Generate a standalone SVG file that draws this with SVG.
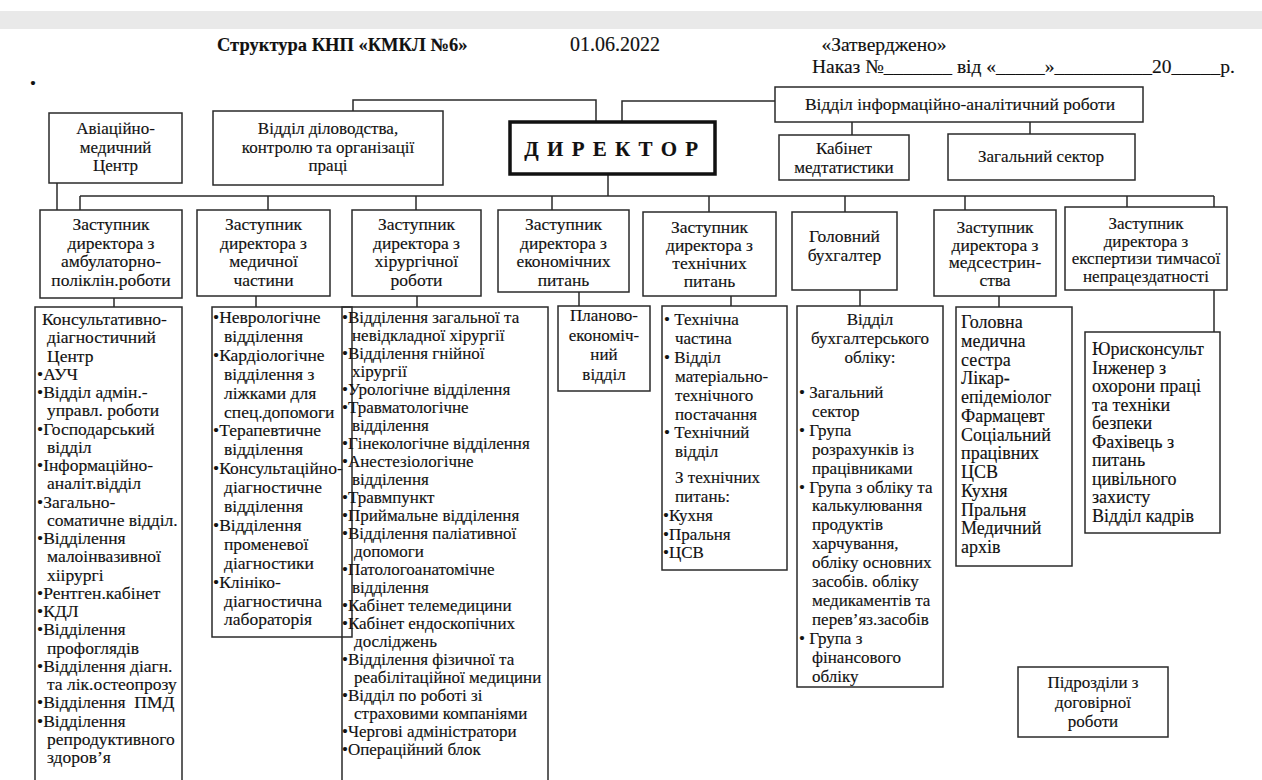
<svg xmlns="http://www.w3.org/2000/svg" width="1262" height="780" viewBox="0 0 1262 780">
<style>
.b{fill:#fff;stroke:#2a2a2a;stroke-width:1.5}
.ln{fill:none;stroke:#2a2a2a;stroke-width:1.5}
text{font-family:"Liberation Serif","Times New Roman",serif;font-size:17px;fill:#111;stroke:#111;stroke-width:0.15}
.c{text-anchor:middle}
.s{font-size:17px}
.d{font-size:17.5px}
.h{font-size:19.5px}
.m{font-size:18px}
</style>
<rect x="0" y="0" width="1262" height="780" fill="#fff"/>
<rect x="0" y="11" width="1262" height="18" fill="#e9e9e9"/>

<g id="header">
<text x="217" y="51" style="font-weight:bold;font-size:18.5px">Структура КНП «КМКЛ №6»</text>
<text x="570" y="51" style="font-size:20px">01.06.2022</text>
<text x="884" y="51" class="c h">«Затверджено»</text>
<text x="812" y="73" class="h">Наказ №_______ від «_____»__________20_____р.</text>
<text x="30" y="89">•</text>
</g>

<g id="connectors">
<polyline class="ln" points="596,122 596,100 353,100 353,111"/>
<polyline class="ln" points="622,122 622,101 775,101"/>
<line class="ln" x1="852" y1="122" x2="852" y2="135"/>
<line class="ln" x1="1030" y1="122" x2="1030" y2="134"/>
<line class="ln" x1="57" y1="183" x2="57" y2="210"/>
<line class="ln" x1="608" y1="174" x2="608" y2="196"/>
<line class="ln" x1="80" y1="196" x2="1214" y2="196"/>
<line class="ln" x1="80" y1="196" x2="80" y2="210"/>
<line class="ln" x1="268" y1="196" x2="268" y2="210"/>
<line class="ln" x1="416" y1="196" x2="416" y2="210"/>
<line class="ln" x1="552" y1="196" x2="552" y2="210"/>
<line class="ln" x1="709" y1="196" x2="709" y2="212"/>
<line class="ln" x1="845" y1="196" x2="845" y2="212"/>
<line class="ln" x1="965" y1="196" x2="965" y2="210"/>
<line class="ln" x1="1127" y1="196" x2="1127" y2="207"/>
<line class="ln" x1="1214" y1="196" x2="1214" y2="207"/>
<line class="ln" x1="114" y1="298" x2="114" y2="307"/>
<line class="ln" x1="256" y1="296" x2="256" y2="307"/>
<line class="ln" x1="417" y1="296" x2="417" y2="307"/>
<line class="ln" x1="579" y1="292" x2="579" y2="306"/>
<line class="ln" x1="731" y1="296" x2="731" y2="306"/>
<line class="ln" x1="860" y1="290" x2="860" y2="306"/>
<line class="ln" x1="999" y1="296" x2="999" y2="307"/>
<line class="ln" x1="1214" y1="290" x2="1214" y2="332"/>
</g>

<g id="aviation">
<rect class="b" x="49" y="113" width="133" height="70"/>
<text class="c s" x="115.5" y="134"><tspan x="115.5">Авіаційно-</tspan><tspan x="115.5" dy="18.5">медичний</tspan><tspan x="115.5" dy="18.5">Центр</tspan></text>
</g>

<g id="office">
<rect class="b" x="213" y="111" width="230" height="74"/>
<text class="c s" x="328" y="134"><tspan x="328">Відділ діловодства,</tspan><tspan x="328" dy="18.5">контролю та організації</tspan><tspan x="328" dy="18.5">праці</tspan></text>
</g>

<g id="director">
<rect x="510" y="122" width="205" height="52" fill="#fff" stroke="#111" stroke-width="3.5"/>
<text class="c" x="612" y="156" style="font-weight:bold;font-size:21px;letter-spacing:1.5px">Д И Р Е К Т О Р</text>
</g>

<g id="info">
<rect class="b" x="775" y="87" width="368" height="35"/>
<text class="c" x="960" y="110" style="font-size:17.5px">Відділ інформаційно-аналітичний роботи</text>
</g>

<g id="medstat">
<rect class="b" x="779" y="135" width="130" height="45"/>
<text class="c s" x="844" y="154"><tspan x="844">Кабінет</tspan><tspan x="844" dy="19">медтатистики</tspan></text>
</g>

<g id="general-sector">
<rect class="b" x="948" y="134" width="187" height="46"/>
<text class="c s" x="1041" y="162">Загальний сектор</text>
</g>

<g id="dep1">
<rect class="b" x="40" y="210" width="142" height="88"/>
<text class="c d" x="111" y="230"><tspan x="111">Заступник</tspan><tspan x="111" dy="18.5">директора з</tspan><tspan x="111" dy="18.5">амбулаторно-</tspan><tspan x="111" dy="18.5">поліклін.роботи</tspan></text>
</g>
<g id="dep2">
<rect class="b" x="197" y="210" width="133" height="86"/>
<text class="c d" x="263.5" y="230"><tspan x="263.5">Заступник</tspan><tspan x="263.5" dy="18.5">директора з</tspan><tspan x="263.5" dy="18.5">медичної</tspan><tspan x="263.5" dy="18.5">частини</tspan></text>
</g>
<g id="dep3">
<rect class="b" x="352" y="210" width="129" height="86"/>
<text class="c d" x="416.5" y="230"><tspan x="416.5">Заступник</tspan><tspan x="416.5" dy="18.5">директора з</tspan><tspan x="416.5" dy="18.5">хірургічної</tspan><tspan x="416.5" dy="18.5">роботи</tspan></text>
</g>
<g id="dep4">
<rect class="b" x="498" y="210" width="131" height="82"/>
<text class="c d" x="563.5" y="230"><tspan x="563.5">Заступник</tspan><tspan x="563.5" dy="18.5">директора з</tspan><tspan x="563.5" dy="18.5">економічних</tspan><tspan x="563.5" dy="18.5">питань</tspan></text>
</g>
<g id="dep5">
<rect class="b" x="643" y="212" width="133" height="84"/>
<text class="c d" x="709.5" y="233"><tspan x="709.5">Заступник</tspan><tspan x="709.5" dy="18">директора з</tspan><tspan x="709.5" dy="18">технічних</tspan><tspan x="709.5" dy="18">питань</tspan></text>
</g>
<g id="dep6">
<rect class="b" x="792" y="212" width="105" height="78"/>
<text class="c d" x="844.5" y="242"><tspan x="844.5">Головний</tspan><tspan x="844.5" dy="18.5">бухгалтер</tspan></text>
</g>
<g id="dep7">
<rect class="b" x="934" y="210" width="122" height="86"/>
<text class="c d" x="995" y="233"><tspan x="995">Заступник</tspan><tspan x="995" dy="17.5">директора з</tspan><tspan x="995" dy="17.5">медсестрин-</tspan><tspan x="995" dy="17.5">ства</tspan></text>
</g>
<g id="dep8">
<rect class="b" x="1065" y="207" width="162" height="83"/>
<text class="c s" x="1146" y="229"><tspan x="1146">Заступник</tspan><tspan x="1146" dy="17.5">директора з</tspan><tspan x="1146" dy="17.5">експертизи тимчасої</tspan><tspan x="1146" dy="17.5">непрацездатності</tspan></text>
</g>

<g id="col1">
<rect class="b" x="35" y="307" width="147" height="500"/>
<text x="42" y="325" style="font-size:17.5px"><tspan x="42">Консультативно-</tspan><tspan x="47" dy="18.25">діагностичний</tspan><tspan x="47" dy="18.25">Центр</tspan><tspan x="37" dy="18.25">•АУЧ</tspan><tspan x="37" dy="18.25">•Відділ адмін.-</tspan><tspan x="47" dy="18.25">управл. роботи</tspan><tspan x="37" dy="18.25">•Господарський</tspan><tspan x="47" dy="18.25">відділ</tspan><tspan x="37" dy="18.25">•Інформаційно-</tspan><tspan x="47" dy="18.25">аналіт.відділ</tspan><tspan x="37" dy="18.25">•Загально-</tspan><tspan x="47" dy="18.25">соматичне відділ.</tspan><tspan x="37" dy="18.25">•Відділення</tspan><tspan x="47" dy="18.25">малоінвазивної</tspan><tspan x="47" dy="18.25">хіірургі</tspan><tspan x="37" dy="18.25">•Рентген.кабінет</tspan><tspan x="37" dy="18.25">•КДЛ</tspan><tspan x="37" dy="18.25">•Відділення</tspan><tspan x="47" dy="18.25">профоглядів</tspan><tspan x="37" dy="18.25">•Відділення діагн.</tspan><tspan x="47" dy="18.25">та лік.остеопрозу</tspan><tspan x="37" dy="18.25">•Відділення&#160; ПМД</tspan><tspan x="37" dy="18.25">•Відділення</tspan><tspan x="47" dy="18.25">репродуктивного</tspan><tspan x="47" dy="18.25">здоров’я</tspan></text>
</g>

<g id="col2">
<rect class="b" x="212" y="307" width="140" height="330"/>
<text x="213" y="323" style="font-size:17.5px"><tspan x="213">•Неврологічне</tspan><tspan x="224" dy="18.9">відділення</tspan><tspan x="213" dy="18.9">•Кардіологічне</tspan><tspan x="224" dy="18.9">відділення з</tspan><tspan x="224" dy="18.9">ліжками для</tspan><tspan x="224" dy="18.9">спец.допомоги</tspan><tspan x="213" dy="18.9">•Терапевтичне</tspan><tspan x="224" dy="18.9">відділення</tspan><tspan x="213" dy="18.9">•Консультаційно-</tspan><tspan x="224" dy="18.9">діагностичне</tspan><tspan x="224" dy="18.9">відділення</tspan><tspan x="213" dy="18.9">•Відділення</tspan><tspan x="224" dy="18.9">променевої</tspan><tspan x="224" dy="18.9">діагностики</tspan><tspan x="213" dy="18.9">•Клініко-</tspan><tspan x="224" dy="18.9">діагностична</tspan><tspan x="224" dy="18.9">лабораторія</tspan></text>
</g>

<g id="col3">
<rect class="b" x="342" y="307" width="206" height="500" style="fill:none"/>
<text x="342" y="323"><tspan x="342">•Відділення загальної та</tspan><tspan x="352" dy="18">невідкладної хірургії</tspan><tspan x="342" dy="18">•Відділення гнійної</tspan><tspan x="352" dy="18">хірургії</tspan><tspan x="342" dy="18">•Урологічне відділення</tspan><tspan x="342" dy="18">•Травматологічне</tspan><tspan x="352" dy="18">відділення</tspan><tspan x="342" dy="18">•Гінекологічне відділення</tspan><tspan x="342" dy="18">•Анестезіологічне</tspan><tspan x="352" dy="18">відділення</tspan><tspan x="342" dy="18">•Травмпункт</tspan><tspan x="342" dy="18">•Приймальне відділення</tspan><tspan x="342" dy="18">•Відділення паліативної</tspan><tspan x="354" dy="18">допомоги</tspan><tspan x="342" dy="18">•Патологоанатомічне</tspan><tspan x="352" dy="18">відділення</tspan><tspan x="342" dy="18">•Кабінет телемедицини</tspan><tspan x="342" dy="18">•Кабінет ендоскопічних</tspan><tspan x="354" dy="18">досліджень</tspan><tspan x="342" dy="18">•Відділення фізичної та</tspan><tspan x="354" dy="18">реабілітаційної медицини</tspan><tspan x="342" dy="18">•Відділ по роботі зі</tspan><tspan x="354" dy="18">страховими компаніями</tspan><tspan x="342" dy="18">•Чергові адміністратори</tspan><tspan x="342" dy="18">•Операційний блок</tspan></text>
</g>

<g id="col4">
<rect class="b" x="558" y="306" width="92" height="85"/>
<text class="c" x="604" y="321"><tspan x="604">Планово-</tspan><tspan x="604" dy="19.5">економіч-</tspan><tspan x="604" dy="19.5">ний</tspan><tspan x="604" dy="19.5">відділ</tspan></text>
</g>

<g id="col5">
<rect class="b" x="662" y="306" width="125" height="264"/>
<text x="664" y="325"><tspan x="664">• Технічна</tspan><tspan x="675" dy="19">частина</tspan><tspan x="664" dy="19">• Відділ</tspan><tspan x="675" dy="19">матеріально-</tspan><tspan x="675" dy="19">технічного</tspan><tspan x="675" dy="18.5">постачання</tspan><tspan x="664" dy="18.5">• Технічний</tspan><tspan x="675" dy="18.5">відділ</tspan><tspan x="675" dy="26">З технічних</tspan><tspan x="675" dy="19">питань:</tspan><tspan x="663" dy="19">•Кухня</tspan><tspan x="663" dy="19">•Пральня</tspan><tspan x="663" dy="18.5">•ЦСВ</tspan></text>
</g>

<g id="col6">
<rect class="b" x="797" y="306" width="146" height="381"/>
<text class="c" x="870" y="325"><tspan x="870">Відділ</tspan><tspan x="870" dy="18.5">бухгалтерського</tspan><tspan x="870" dy="19.5">обліку:</tspan></text>
<text x="799" y="398"><tspan x="799">• Загальний</tspan><tspan x="812" dy="18.9">сектор</tspan><tspan x="799" dy="18.9">• Група</tspan><tspan x="812" dy="18.9">розрахунків із</tspan><tspan x="812" dy="18.9">працівниками</tspan><tspan x="799" dy="18.9">• Група з обліку та</tspan><tspan x="812" dy="18.9">калькулювання</tspan><tspan x="812" dy="18.9">продуктів</tspan><tspan x="812" dy="18.9">харчування,</tspan><tspan x="812" dy="18.9">обліку основних</tspan><tspan x="812" dy="18.9">засобів. обліку</tspan><tspan x="812" dy="18.9">медикаментів та</tspan><tspan x="812" dy="18.9">перев’яз.засобів</tspan><tspan x="799" dy="18.9">• Група з</tspan><tspan x="812" dy="18.9">фінансового</tspan><tspan x="812" dy="18.9">обліку</tspan></text>
</g>

<g id="col7">
<rect class="b" x="956" y="307" width="116" height="259"/>
<text x="961" y="328" class="m"><tspan x="961">Головна</tspan><tspan x="961" dy="18.75">медична</tspan><tspan x="961" dy="18.75">сестра</tspan><tspan x="961" dy="18.75">Лікар-</tspan><tspan x="961" dy="18.75">епідеміолог</tspan><tspan x="961" dy="18.75">Фармацевт</tspan><tspan x="961" dy="18.75">Соціальний</tspan><tspan x="961" dy="18.75">працівних</tspan><tspan x="961" dy="18.75">ЦСВ</tspan><tspan x="961" dy="18.75">Кухня</tspan><tspan x="961" dy="18.75">Пральня</tspan><tspan x="961" dy="18.75">Медичний</tspan><tspan x="961" dy="18.75">архів</tspan></text>
</g>

<g id="col8">
<rect class="b" x="1085" y="332" width="135" height="201"/>
<text x="1092" y="355" class="m"><tspan x="1092">Юрисконсульт</tspan><tspan x="1092" dy="18.5">Інженер з</tspan><tspan x="1092" dy="18.5">охорони праці</tspan><tspan x="1092" dy="18.5">та техніки</tspan><tspan x="1092" dy="18.5">безпеки</tspan><tspan x="1092" dy="18.5">Фахівець з</tspan><tspan x="1092" dy="18.5">питань</tspan><tspan x="1092" dy="18.5">цивільного</tspan><tspan x="1092" dy="18.5">захисту</tspan><tspan x="1092" dy="18.5">Відділ кадрів</tspan></text>
</g>

<g id="contract">
<rect class="b" x="1018" y="667" width="150" height="70"/>
<text class="c" x="1093" y="688"><tspan x="1093">Підрозділи з</tspan><tspan x="1093" dy="19.5">договірної</tspan><tspan x="1093" dy="19.5">роботи</tspan></text>
</g>
</svg>
